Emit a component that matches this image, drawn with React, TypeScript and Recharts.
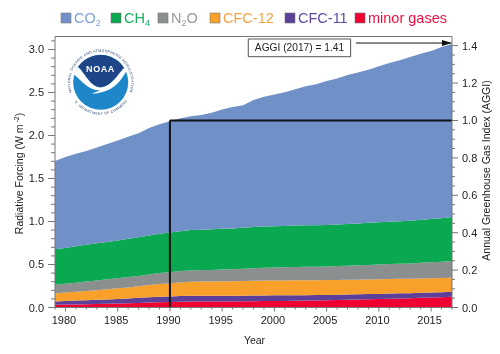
import React from 'react';
import { AreaChart, Area, XAxis, YAxis, ReferenceLine, ReferenceArea } from 'recharts';

const years = [
  1979, 1980, 1981, 1982, 1983, 1984, 1985, 1986, 1987, 1988, 1989, 1990, 1991,
  1992, 1993, 1994, 1995, 1996, 1997, 1998, 1999, 2000, 2001, 2002, 2003, 2004,
  2005, 2006, 2007, 2008, 2009, 2010, 2011, 2012, 2013, 2014, 2015, 2016, 2017,
];
const minorGases = [
  0.031, 0.034, 0.036, 0.038, 0.041, 0.044, 0.047, 0.049, 0.053, 0.057, 0.061, 0.064, 0.067,
  0.069, 0.07, 0.07, 0.071, 0.071, 0.072, 0.074, 0.075, 0.076, 0.077, 0.079, 0.08, 0.082,
  0.084, 0.087, 0.09, 0.093, 0.096, 0.099, 0.103, 0.106, 0.109, 0.113, 0.116, 0.12, 0.124,
];
const cfc11 = [
  0.039, 0.042, 0.044, 0.046, 0.048, 0.05, 0.053, 0.056, 0.059, 0.062, 0.064, 0.065, 0.067,
  0.067, 0.067, 0.067, 0.067, 0.066, 0.066, 0.066, 0.065, 0.065, 0.064, 0.064, 0.063, 0.062,
  0.062, 0.061, 0.061, 0.06, 0.06, 0.059, 0.059, 0.059, 0.058, 0.058, 0.058, 0.058, 0.058,
];
const cfc12 = [
  0.092, 0.097, 0.102, 0.108, 0.113, 0.118, 0.123, 0.129, 0.135, 0.143, 0.149, 0.153, 0.158,
  0.162, 0.164, 0.166, 0.168, 0.169, 0.171, 0.172, 0.173, 0.173, 0.174, 0.174, 0.174, 0.174,
  0.173, 0.173, 0.172, 0.171, 0.171, 0.17, 0.169, 0.168, 0.167, 0.166, 0.165, 0.164, 0.164,
];
const n2o = [
  0.104, 0.104, 0.107, 0.111, 0.113, 0.116, 0.118, 0.122, 0.12, 0.123, 0.126, 0.129, 0.131,
  0.133, 0.134, 0.134, 0.136, 0.139, 0.142, 0.145, 0.148, 0.151, 0.153, 0.155, 0.156, 0.157,
  0.158, 0.161, 0.163, 0.166, 0.168, 0.171, 0.174, 0.176, 0.179, 0.183, 0.187, 0.191, 0.195,
];
const ch4 = [
  0.41, 0.416, 0.422, 0.428, 0.431, 0.434, 0.439, 0.444, 0.449, 0.453, 0.457, 0.461, 0.465,
  0.469, 0.469, 0.472, 0.474, 0.475, 0.476, 0.479, 0.481, 0.48, 0.48, 0.482, 0.482, 0.481,
  0.482, 0.482, 0.485, 0.487, 0.489, 0.491, 0.493, 0.494, 0.496, 0.499, 0.503, 0.506, 0.511,
];
const co2 = [
  1.027, 1.058, 1.077, 1.089, 1.115, 1.14, 1.162, 1.184, 1.211, 1.25, 1.274, 1.293, 1.313,
  1.324, 1.333, 1.356, 1.385, 1.41, 1.426, 1.476, 1.509, 1.533, 1.556, 1.584, 1.617, 1.64,
  1.674, 1.698, 1.731, 1.755, 1.78, 1.816, 1.844, 1.872, 1.903, 1.932, 1.953, 1.991, 2.012,
];

const forcingTicks = [
  0, 0.1, 0.2, 0.3, 0.4, 0.5, 0.6, 0.7, 0.8, 0.9, 1, 1.1, 1.2, 1.3, 1.4, 1.5,
  1.6, 1.7, 1.8, 1.9, 2, 2.1, 2.2, 2.3, 2.4, 2.5, 2.6, 2.7, 2.8, 2.9, 3, 3.1,
];
const aggiTicks = [
  0, 0.05, 0.1, 0.15, 0.2, 0.25, 0.3, 0.35, 0.4, 0.45, 0.5, 0.55, 0.6, 0.65, 0.7,
  0.75, 0.8, 0.85, 0.9, 0.95, 1, 1.05, 1.1, 1.15, 1.2, 1.25, 1.3, 1.35, 1.4,
];

const COLORS = {
  co2: '#7090c8',
  ch4: '#0aa850',
  n2o: '#8c8f8f',
  cfc12: '#f9a02b',
  cfc11: '#5b3f98',
  minor: '#ee0033',
};

const data = years.map((year, i) => ({
  year,
  minor: minorGases[i],
  cfc11: cfc11[i],
  cfc12: cfc12[i],
  n2o: n2o[i],
  ch4: ch4[i],
  co2: co2[i],
}));

const FONT = '"Liberation Sans", Arial, sans-serif';
const TICK_COLOR = '#222';
const AXIS_GRAY = '#777';

const isMultiple = (v: number, step: number) => Math.abs(v / step - Math.round(v / step)) < 1e-6;

const LeftTick = ({ x, y, payload }: any) => {
  const major = isMultiple(payload.value, 0.5);
  return (
    <g>
      <line x1={x} x2={x - (major ? 7 : 4)} y1={y} y2={y} stroke={AXIS_GRAY} />
      {major && (
        <text x={x - 11} y={y + 4} textAnchor="end" fontSize={11} fontFamily={FONT} fill={TICK_COLOR}>
          {payload.value.toFixed(1)}
        </text>
      )}
    </g>
  );
};

const RightTick = ({ x, y, payload }: any) => {
  const major = isMultiple(payload.value, 0.2);
  return (
    <g>
      <line x1={x} x2={x + (major ? 6 : 3)} y1={y} y2={y} stroke={AXIS_GRAY} />
      {major && (
        <text x={x + 10} y={y + 4} textAnchor="start" fontSize={11} fontFamily={FONT} fill={TICK_COLOR}>
          {payload.value.toFixed(1)}
        </text>
      )}
    </g>
  );
};

const YearTick = ({ x, y, payload }: any) => {
  const major = isMultiple(payload.value, 5);
  return (
    <g>
      <line x1={x} x2={x} y1={y} y2={y + (major ? 4 : 2)} stroke={AXIS_GRAY} />
      {major && (
        <text x={x - 1.5} y={y + 16} textAnchor="middle" fontSize={11} fontFamily={FONT} fill={TICK_COLOR}>
          {payload.value}
        </text>
      )}
    </g>
  );
};

const legendItems = [
  { label: 'CO', sub: '2', color: COLORS.co2, x: 61, textColor: '#7f9fd8' },
  { label: 'CH', sub: '4', color: COLORS.ch4, x: 111, textColor: '#18b060' },
  { label: 'N', sub: '2', tail: 'O', color: COLORS.n2o, x: 158, textColor: '#969a9a' },
  { label: 'CFC-12', color: COLORS.cfc12, x: 210, textColor: '#f9a040' },
  { label: 'CFC-11', color: COLORS.cfc11, x: 285, textColor: '#6048a0' },
  { label: 'minor gases', color: COLORS.minor, x: 355, textColor: '#ee1040' },
];

// logo + legend + axis titles sit on top of the chart
const Overlay = () => (
  <svg width={500} height={354} style={{ position: 'absolute', left: 0, top: 0, pointerEvents: 'none' }}>
    <defs>
      <path id="ringTop" d="M79.1 103.9 A30.5 30.5 0 1 1 122.3 103.9" />
      <path id="ringBottom" d="M73.9 100.7 A32.5 32.5 0 0 0 127.5 100.7" />
    </defs>

    {legendItems.map((item) => (
      <g key={item.label}>
        <rect x={item.x} y={13} width={10} height={10} fill={item.color} stroke="#777" strokeWidth={0.6} />
        <text x={item.x + 13} y={23} fontSize={14.5} fontFamily={FONT} fill={item.textColor}>
          {item.label}
          {item.sub && (
            <tspan fontSize={9} dy={3}>
              {item.sub}
            </tspan>
          )}
          {item.tail && <tspan dy={-3}>{item.tail}</tspan>}
        </text>
      </g>
    ))}

    <text transform="translate(22.5,173.5) rotate(-90)" textAnchor="middle" fontSize={10.5} fontFamily={FONT} fill={TICK_COLOR}>
      Radiative Forcing (W m
      <tspan fontSize={7} dy={-4}>
        {' -2'}
      </tspan>
      <tspan dy={4}>)</tspan>
    </text>
    <text transform="translate(490,170.5) rotate(-90)" textAnchor="middle" fontSize={10.5} fontFamily={FONT} fill={TICK_COLOR}>
      Annual Greenhouse Gas Index (AGGI)
    </text>
    <text x={254.5} y={344} textAnchor="middle" fontSize={10.5} fontFamily={FONT} fill={TICK_COLOR}>
      Year
    </text>

    <circle cx={100.7} cy={82.3} r={27.5} fill="#1e87c9" />
    <path d="M78 67 A27.5 27.5 0 0 1 124 68 C118 74 112 86 101 87.5 C90 87 85 73 78 67Z" fill="#1d4587" />
    <path
      d="M78 67 C85 73 90 87 101 87.5 C112 86 118 74 124 68 L126.5 71 C119 84 112 91 96 93.5 L92 93.5 L100 90.5 C88 90 82 81 73.5 74Z"
      fill="#fff"
    />
    <text x={100.5} y={72} textAnchor="middle" fontSize={9} fontWeight="bold" letterSpacing={0.6} fontFamily={FONT} fill="#fff">
      NOAA
    </text>
    <text fontSize={3.5} letterSpacing={0.35} fontFamily={FONT} fill="#1d3a6a">
      <textPath href="#ringTop" startOffset="50%" textAnchor="middle">
        NATIONAL OCEANIC AND ATMOSPHERIC ADMINISTRATION
      </textPath>
    </text>
    <text fontSize={3.5} letterSpacing={0.35} fontFamily={FONT} fill="#1d3a6a">
      <textPath href="#ringBottom" startOffset="50%" textAnchor="middle">
        U.S. DEPARTMENT OF COMMERCE
      </textPath>
    </text>
  </svg>
);

export default function App() {
  return (
    <div style={{ position: 'absolute', left: 0, top: 0, width: 500, height: 354, background: '#fff', filter: 'blur(0.35px)' }}>
      <AreaChart
        width={500}
        height={354}
        data={data}
        margin={{ top: 36.5, right: 0, bottom: 0, left: 0 }}
      >
        <defs>
          <marker id="arrowHead" markerWidth="10" markerHeight="6" refX="9" refY="3" orient="auto" markerUnits="userSpaceOnUse">
            <path d="M0 0 L10 3 L0 6Z" fill="#111" />
          </marker>
        </defs>
        <XAxis
          dataKey="year"
          type="number"
          domain={[1979, 2017]}
          ticks={years}
          interval={0}
          tick={<YearTick />}
          tickLine={false}
          tickSize={0}
          tickMargin={0}
          height={46.5}
          stroke={AXIS_GRAY}
        />
        <YAxis
          yAxisId="forcing"
          domain={[0, 3.151]}
          ticks={forcingTicks}
          interval={0}
          tick={<LeftTick />}
          tickLine={false}
          tickSize={0}
          tickMargin={0}
          width={55}
          stroke={AXIS_GRAY}
          allowDataOverflow
        />
        <YAxis
          yAxisId="aggi"
          orientation="right"
          domain={[0, 1.449]}
          ticks={aggiTicks}
          interval={0}
          tick={<RightTick />}
          tickLine={false}
          tickSize={0}
          tickMargin={0}
          width={48}
          stroke={AXIS_GRAY}
          allowDataOverflow
        />
        <Area yAxisId="forcing" type="linear" dataKey="minor" stackId="1" stroke="none" fill={COLORS.minor} fillOpacity={1} isAnimationActive={false} />
        <Area yAxisId="forcing" type="linear" dataKey="cfc11" stackId="1" stroke="none" fill={COLORS.cfc11} fillOpacity={1} isAnimationActive={false} />
        <Area yAxisId="forcing" type="linear" dataKey="cfc12" stackId="1" stroke="none" fill={COLORS.cfc12} fillOpacity={1} isAnimationActive={false} />
        <Area yAxisId="forcing" type="linear" dataKey="n2o" stackId="1" stroke="none" fill={COLORS.n2o} fillOpacity={1} isAnimationActive={false} />
        <Area yAxisId="forcing" type="linear" dataKey="ch4" stackId="1" stroke="none" fill={COLORS.ch4} fillOpacity={1} isAnimationActive={false} />
        <Area yAxisId="forcing" type="linear" dataKey="co2" stackId="1" stroke="none" fill={COLORS.co2} fillOpacity={1} isAnimationActive={false} />

        {/* top edge of the frame */}
        <ReferenceLine yAxisId="forcing" y={3.151} stroke={AXIS_GRAY} />

        {/* AGGI = 1 in 1990 */}
        <ReferenceLine yAxisId="aggi" segment={[{ x: 1990, y: 0 }, { x: 1990, y: 1 }]} stroke="#111" strokeWidth={2} />
        <ReferenceLine yAxisId="aggi" segment={[{ x: 1990, y: 1 }, { x: 2017, y: 1 }]} stroke="#111" strokeWidth={2} />

        <ReferenceArea
          yAxisId="forcing"
          x1={1997.5}
          x2={2007.3}
          y1={2.916}
          y2={3.122}
          fill="#fff"
          fillOpacity={1}
          stroke="#555"
          label={{ value: 'AGGI (2017) = 1.41', position: 'center', fontSize: 10.2, fontFamily: FONT, fill: TICK_COLOR }}
        />
        <ReferenceLine
          yAxisId="forcing"
          segment={[{ x: 2007.8, y: 3.075 }, { x: 2016.9, y: 3.075 }]}
          stroke="#111"
          strokeWidth={1}
          markerEnd="url(#arrowHead)"
        />
      </AreaChart>
      <Overlay />
    </div>
  );
}
